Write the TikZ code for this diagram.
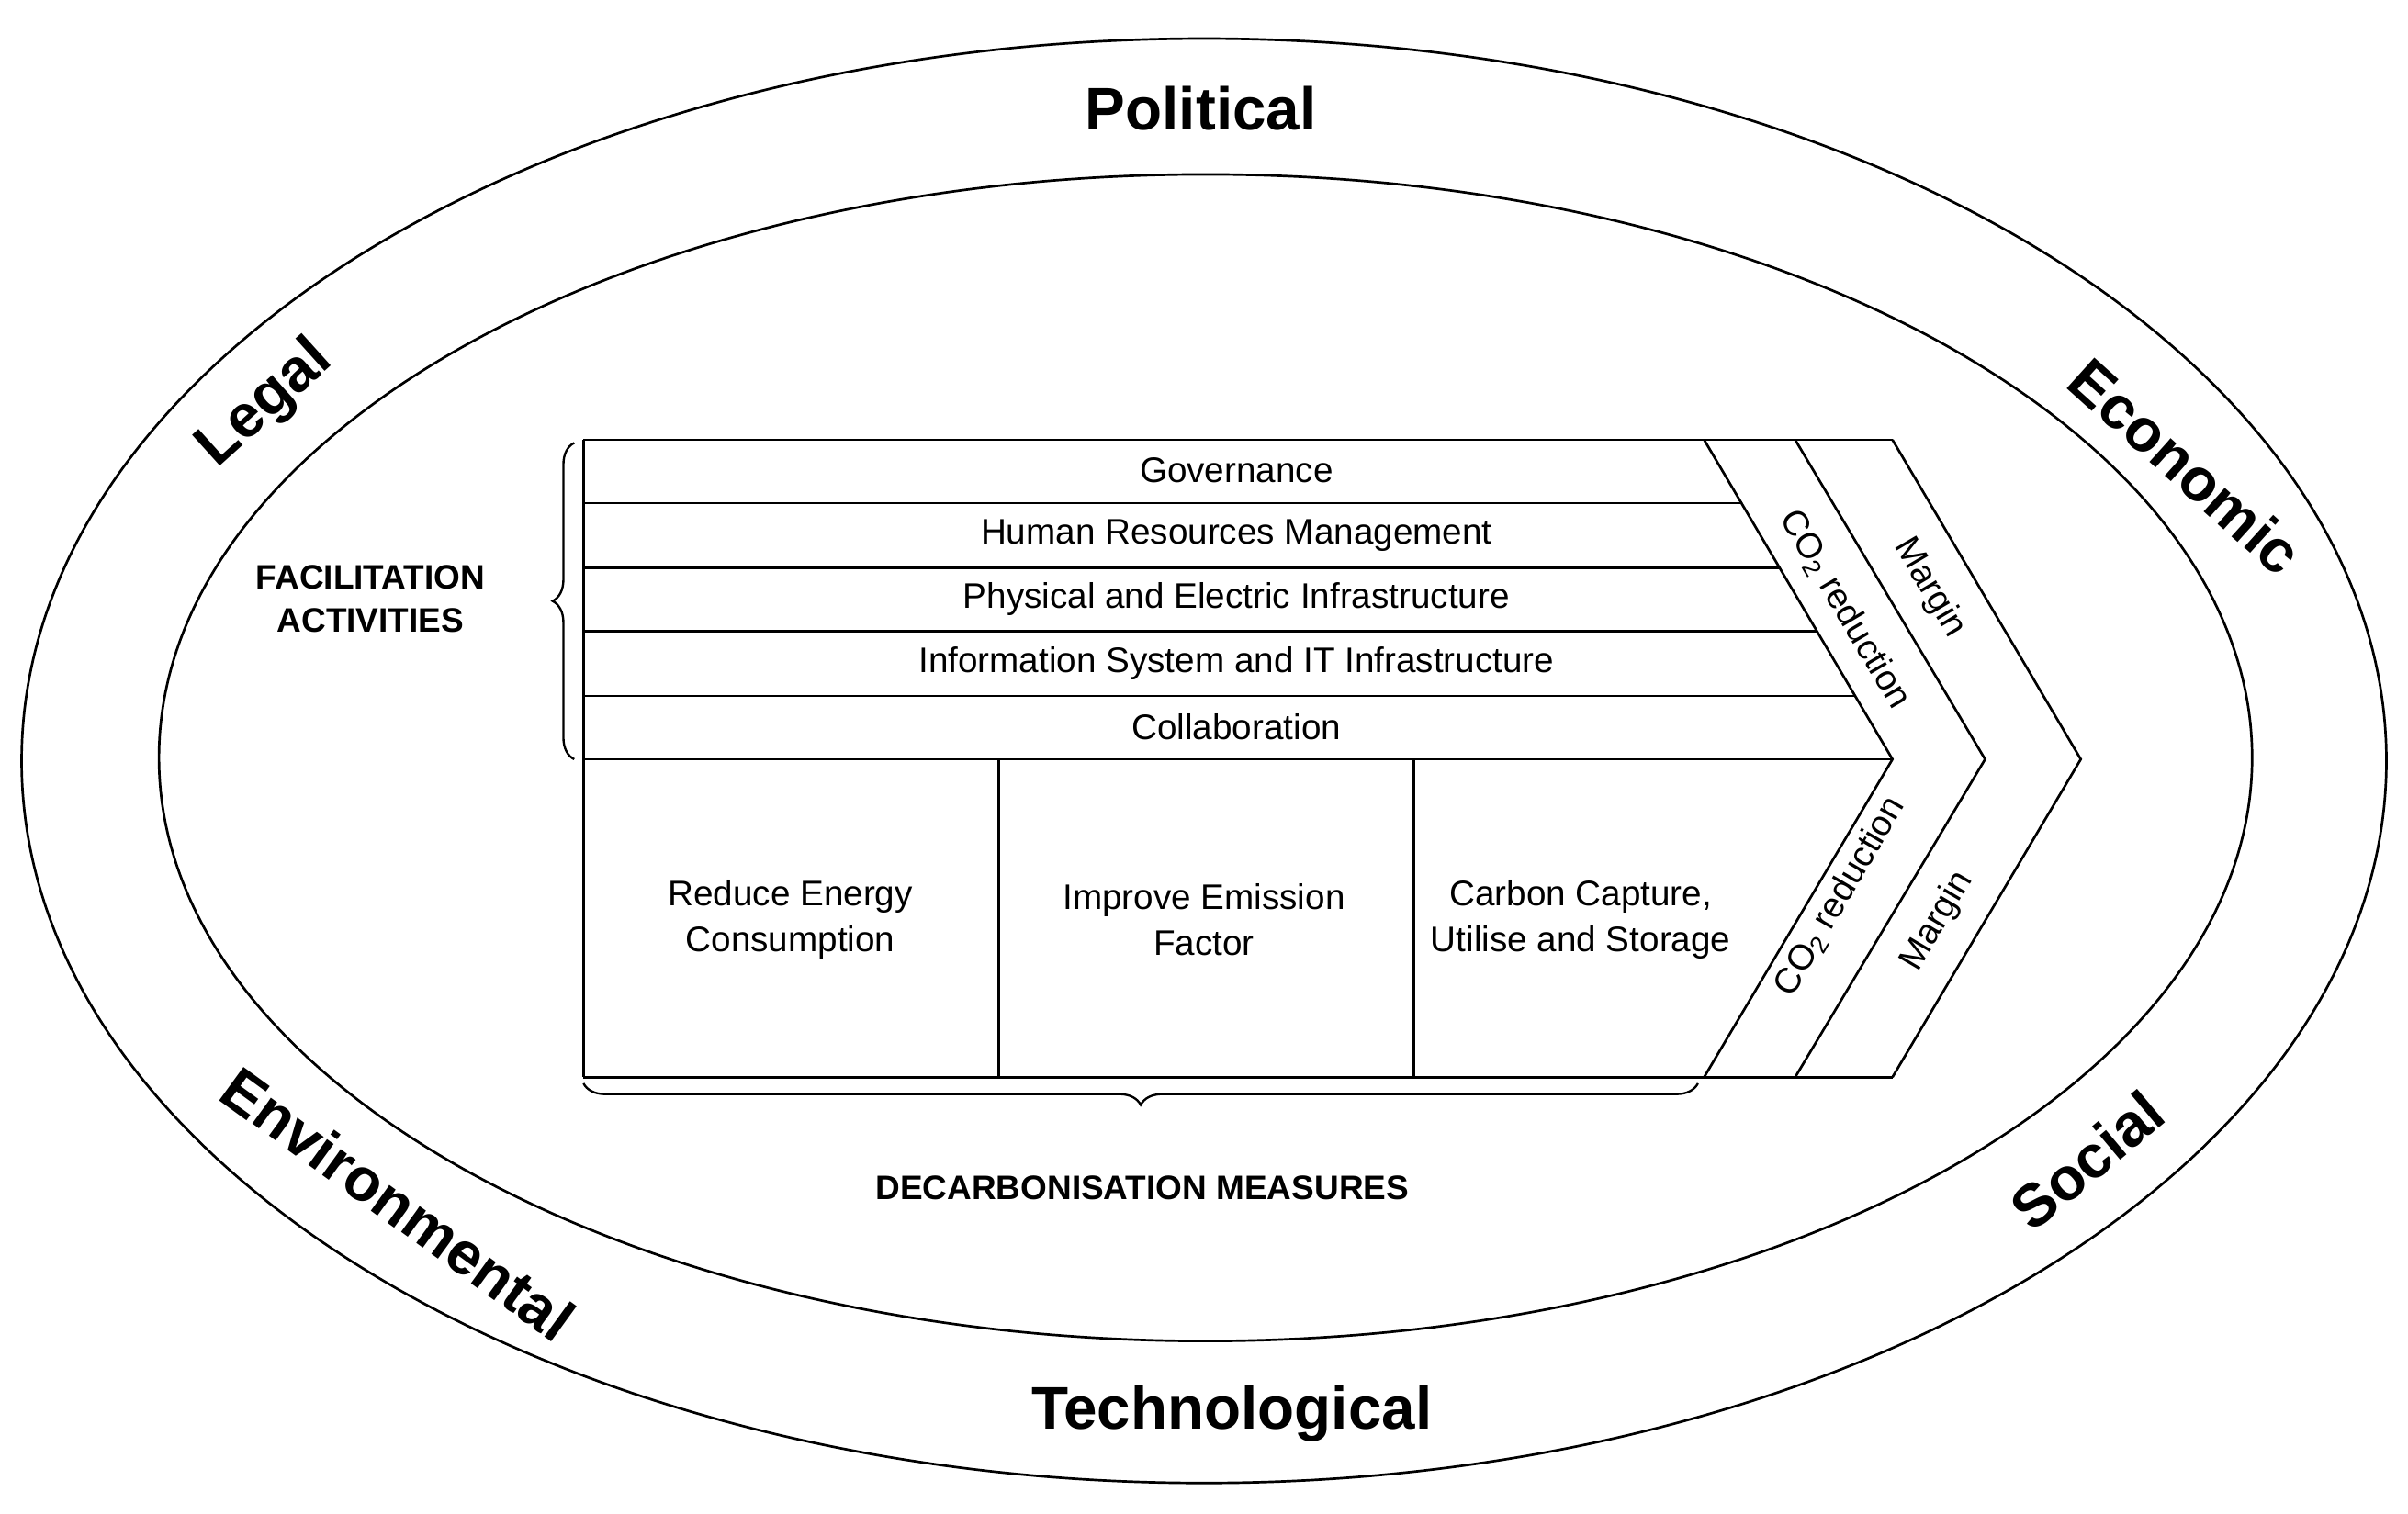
\documentclass[tikz,border=0pt]{standalone}
\usepackage{fontspec}
\setmainfont{Liberation Sans}
\usetikzlibrary{decorations.pathreplacing,calc}
\begin{document}
\begin{tikzpicture}[x=1pt,y=-1pt,line width=1.6pt,
  big/.style={font=\fontsize{39}{44}\selectfont\bfseries},
  body/.style={font=\fontsize{23}{30}\selectfont,align=center},
  captxt/.style={font=\fontsize{22}{28}\selectfont\bfseries,align=center}]
\useasboundingbox (0,0) rectangle (1560,980.5);
\draw (780,493) ellipse [x radius=766,y radius=468];
\draw (781,491) ellipse [x radius=678,y radius=378];
\node[big] (pol) at (778,70) {Political};
\node[big] (tec) at (798,916) {Technological};
\node[big,rotate=42] (leg) at (172,262) {Legal};
\node[big,rotate=-42] (eco) at (1416,302) {Economic};
\node[big,rotate=-36] (env) at (258,780) {Environmental};
\node[big,rotate=40] (soc) at (1352,752) {Social};
% table
\draw (378,285) -- (1226,285);
\draw (378,698) -- (1226,698);
\draw (378,285) -- (378,698);
\foreach \y in {326,368,409,451} \draw (378,\y) -- ({1104+(\y-285)/207*122},\y);
\draw (378,492) -- (1226,492);
\draw (647,492) -- (647,698);
\draw (916,492) -- (916,698);
\draw (1104,285) -- (1226,492) -- (1104,698);
\draw (1163,285) -- (1286,492) -- (1163,698);
\draw (1226,285) -- (1348,492) -- (1226,698);
\node[body] (g) at (801,305) {Governance};
\node[body] (h) at (801,347) {Human Resources Management};
\node[body] (p) at (801,388) {Physical and Electric Infrastructure};
\node[body] (i) at (801,430) {Information System and IT Infrastructure};
\node[body] (c) at (801,471) {Collaboration};
\node[body] (r) at (512,596) {Reduce Energy\\Consumption};
\node[body] (ie) at (780,596) {Improve Emission\\Factor};
\node[body] (cc) at (1024,596) {Carbon Capture,\\Utilise and Storage};
\node[body,rotate=-59.5] (co1) at (1195,395) {CO\textsubscript{2} reduction};
\node[body,rotate=-59.5] (m1) at (1250,381) {Margin};
\node[body,rotate=59.5] (co2) at (1192,581) {CO\textsubscript{2} reduction};
\node[body,rotate=59.5] (m2) at (1255,597) {Margin};
% braces
\draw[line width=1.4pt,decorate,decoration={brace,amplitude=14pt}] (372,492) -- (372,287);
\draw[line width=1.4pt,decorate,decoration={brace,amplitude=14pt}] (1100,702) -- (378,702);
\node[captxt] (fa) at (240,388) {FACILITATION\\ACTIVITIES};
\node[captxt] (dm) at (740,770) {DECARBONISATION MEASURES};
\end{tikzpicture}
\end{document}
